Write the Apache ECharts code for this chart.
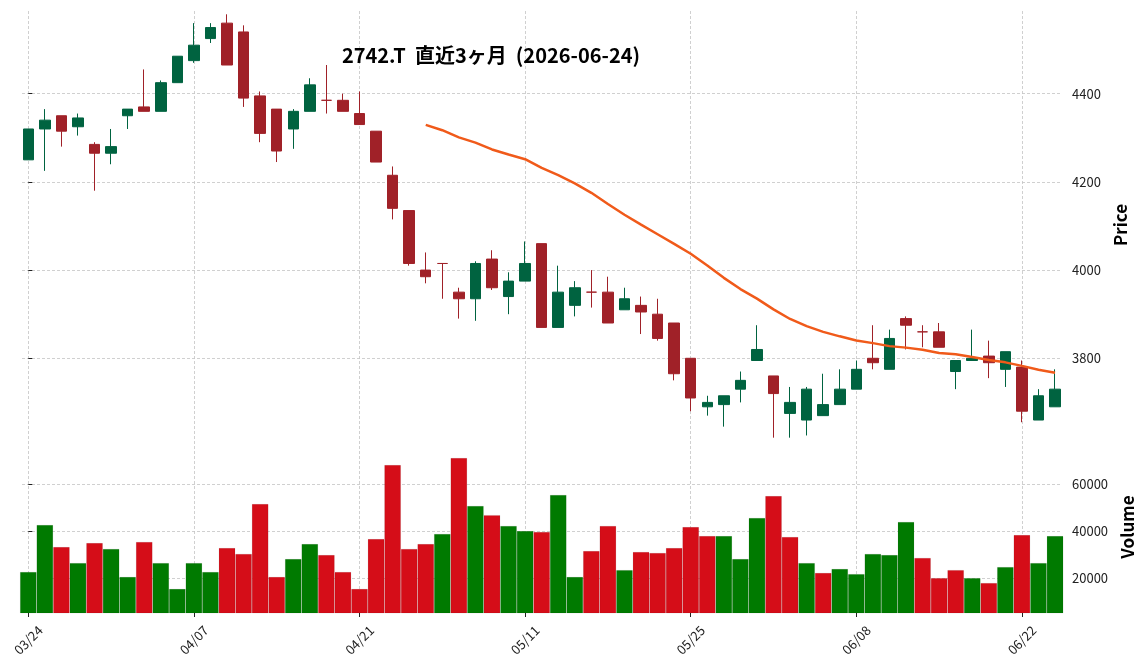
<!DOCTYPE html>
<html>
<head>
<meta charset="utf-8">
<script src="https://cdn.jsdelivr.net/npm/echarts@6/dist/echarts.min.js"></script>
<style>
  html, body { margin: 0; padding: 0; background: #fff; }
  #main { width: 1145px; height: 670px; }
</style>
</head>
<body>
<div id="main"></div>
<script>
// 2742.T daily prices, last 3 months
var dates = [
  "03/24", "03/25", "03/26", "03/27", "03/30", "03/31", "04/01", "04/02", "04/03", "04/06",
  "04/07", "04/08", "04/09", "04/10", "04/13", "04/14", "04/15", "04/16", "04/17", "04/20",
  "04/21", "04/22", "04/23", "04/24", "04/27", "04/28", "04/30", "05/01", "05/07", "05/08",
  "05/11", "05/12", "05/13", "05/14", "05/15", "05/18", "05/19", "05/20", "05/21", "05/22",
  "05/25", "05/26", "05/27", "05/28", "05/29", "06/01", "06/02", "06/03", "06/04", "06/05",
  "06/08", "06/09", "06/10", "06/11", "06/12", "06/15", "06/16", "06/17", "06/18", "06/19",
  "06/22", "06/23", "06/24"
];
var opens = [
  4250, 4320, 4350, 4325, 4285, 4265, 4350, 4370, 4360, 4425,
  4475, 4525, 4560, 4540, 4395, 4365, 4320, 4360, 4385, 4385,
  4355, 4315, 4215, 4135, 4000, 4015, 3950, 3935, 4025, 3940,
  3975, 4060, 3870, 3920, 3950, 3950, 3910, 3920, 3900, 3880,
  3800, 3690, 3695, 3730, 3795, 3760, 3675, 3660, 3670, 3695,
  3730, 3800, 3775, 3890, 3860, 3860, 3770, 3795, 3805, 3775,
  3780, 3660, 3690
];
var closes = [
  4320, 4340, 4315, 4345, 4265, 4280, 4365, 4360, 4425, 4485,
  4510, 4550, 4465, 4390, 4310, 4270, 4360, 4420, 4385, 4360,
  4330, 4245, 4140, 4015, 3985, 4015, 3935, 4015, 3960, 3975,
  4015, 3870, 3950, 3960, 3950, 3880, 3935, 3905, 3845, 3765,
  3710, 3700, 3715, 3750, 3820, 3720, 3700, 3730, 3695, 3730,
  3775, 3790, 3845, 3875, 3860, 3825, 3795, 3800, 3790, 3815,
  3680, 3715, 3730
];
var highs = [
  4320, 4365, 4350, 4355, 4290, 4320, 4365, 4455, 4430, 4485,
  4560, 4560, 4580, 4555, 4405, 4365, 4365, 4435, 4465, 4400,
  4405, 4315, 4235, 4135, 4040, 4015, 3960, 4020, 4045, 3995,
  4065, 4060, 4010, 3975, 4000, 3985, 3960, 3940, 3935, 3880,
  3800, 3715, 3715, 3770, 3875, 3760, 3735, 3735, 3765, 3775,
  3795, 3875, 3865, 3895, 3875, 3880, 3795, 3865, 3840, 3815,
  3795, 3730, 3775
];
var lows = [
  4250, 4225, 4280, 4305, 4180, 4240, 4320, 4360, 4360, 4425,
  4470, 4515, 4465, 4370, 4290, 4245, 4275, 4360, 4355, 4360,
  4330, 4245, 4115, 4010, 3970, 3935, 3890, 3885, 3955, 3900,
  3975, 3870, 3870, 3895, 3915, 3880, 3910, 3855, 3840, 3750,
  3680, 3670, 3645, 3700, 3795, 3620, 3620, 3625, 3670, 3695,
  3730, 3775, 3775, 3820, 3825, 3825, 3730, 3795, 3755, 3735,
  3655, 3660, 3690
];
var volumes = [
  22700, 42700, 33300, 26500, 35000, 32500, 20600, 35500, 26500, 15500,
  26500, 22700, 32900, 30400, 51600, 20600, 28200, 34600, 29900, 22700,
  15500, 36700, 68200, 32500, 34600, 38900, 71200, 50800, 46900, 42300,
  40100, 39700, 55500, 20600, 31600, 42300, 23500, 31200, 30800, 32900,
  41800, 38000, 38000, 28200, 45700, 55000, 37600, 26500, 22300, 24000,
  21800, 30400, 29900, 44000, 28700, 20100, 23500, 20100, 18000, 24800,
  38400, 26500, 38000
];
// 25-day moving average as drawn (starts on the 25th session)
var ma25 = [
  null, null, null, null, null, null, null, null, null, null,
  null, null, null, null, null, null, null, null, null, null,
  null, null, null, null, 4329.4, 4317.2, 4301.0, 4289.0, 4273.6, 4262.0,
  4251.4, 4231.6, 4215.2, 4196.6, 4175.2, 4150.0, 4125.4, 4103.0, 4081.2, 4059.4,
  4037.0, 4010.6, 3982.4, 3957.0, 3935.4, 3911.0, 3889.2, 3872.8, 3860.0, 3849.8,
  3840.2, 3834.4, 3827.6, 3824.2, 3819.6, 3812.0, 3809.0, 3803.0, 3796.2, 3790.8,
  3782.8, 3774.0, 3767.0
];
var dateTicks = [0, 10, 20, 30, 40, 50, 60];
var priceTicks = [3800, 4000, 4200, 4400];
var volumeTicks = [20000, 40000, 60000];

var upCandle = "#006340", downCandle = "#a02128";
var upVol = "#007a00", downVol = "#d50d18";

var chartDom = document.getElementById("main");
var myChart = echarts.init(chartDom);

var candleData = [];
var volData = [];
var maData = [];
for (var i = 0; i < dates.length; i++) {
  var c = opens[i] < closes[i] ? upCandle : downCandle;
  candleData.push({
    value: [i, opens[i], closes[i], lows[i], highs[i]],
    itemStyle: { color: c, color0: c, borderColor: c, borderColor0: c }
  });
  // volume colour follows close vs previous close
  var vUp = i === 0 ? opens[0] < closes[0] : closes[i - 1] < closes[i];
  volData.push({ value: [i, volumes[i]], itemStyle: { color: vUp ? upVol : downVol } });
  if (ma25[i] != null) maData.push([i, ma25[i]]);
}

var gridLine = { show: true, lineStyle: { color: "#c4c4c4", width: 0.8, type: [3, 2] } };
var tickLine = { color: "#222", width: 1 };
var font = "Noto Sans CJK JP";

var option = {
  animation: false,
  backgroundColor: "#fff",
  textStyle: { fontFamily: font },
  title: {
    text: "2742.T  直近3ヶ月  (2026-06-24)",
    left: 486,
    top: 40,
    textAlign: "center",
    textStyle: { fontFamily: font, fontSize: 20, fontWeight: "bold", color: "#000" }
  },
  grid: [
    { left: 22, right: 83, top: 11, height: 428 },
    { left: 22, right: 83, top: 441, height: 172 }
  ],
  xAxis: [
    {
      type: "value", gridIndex: 0, min: -0.38, max: 62.42,
      axisLine: { show: false },
      axisTick: { show: false, customValues: dateTicks },
      axisLabel: { show: false, customValues: dateTicks },
      splitLine: gridLine
    },
    {
      type: "value", gridIndex: 1, min: -0.38, max: 62.42,
      axisLine: { show: false },
      axisTick: { show: true, length: 4, customValues: dateTicks, lineStyle: tickLine },
      axisLabel: {
        customValues: dateTicks,
        formatter: function (v) { return dates[v]; },
        rotate: 45, align: "center", verticalAlign: "middle", margin: 27,
        fontSize: 13, color: "#222"
      },
      splitLine: gridLine
    }
  ],
  yAxis: [
    {
      type: "value", gridIndex: 0, position: "right", min: 3617, max: 4587.5,
      axisLine: { show: false },
      axisTick: { show: true, length: 4, customValues: priceTicks, lineStyle: tickLine },
      axisLabel: { customValues: priceTicks, margin: 10, fontSize: 13, color: "#222",
        formatter: function (v) { return String(v); } },
      splitLine: gridLine,
      name: "Price", nameLocation: "middle", nameRotate: 90, nameGap: 49,
      nameTextStyle: { fontSize: 17, fontWeight: "bold", color: "#000" }
    },
    {
      type: "value", gridIndex: 1, position: "right", min: 5234, max: 78426,
      axisLine: { show: false },
      axisTick: { show: true, length: 4, customValues: volumeTicks, lineStyle: tickLine },
      axisLabel: { customValues: volumeTicks, margin: 10, fontSize: 13, color: "#222",
        formatter: function (v) { return String(v); } },
      splitLine: gridLine,
      name: "Volume", nameLocation: "middle", nameRotate: 90, nameGap: 57,
      nameTextStyle: { fontSize: 17, fontWeight: "bold", color: "#000" }
    }
  ],
  series: [
    {
      type: "candlestick", xAxisIndex: 0, yAxisIndex: 0,
      barWidth: 11,
      itemStyle: { borderWidth: 1 },
      data: candleData
    },
    {
      type: "line", xAxisIndex: 0, yAxisIndex: 0,
      data: maData, showSymbol: false,
      lineStyle: { color: "#f05a1a", width: 2.5 }
    },
    {
      type: "bar", xAxisIndex: 1, yAxisIndex: 1,
      barWidth: "100%",
      clip: true,
      itemStyle: { borderColor: "rgba(0,0,0,0.12)", borderWidth: 0.6 },
      data: volData
    }
  ]
};

option && myChart.setOption(option);
</script>
</body>
</html>
